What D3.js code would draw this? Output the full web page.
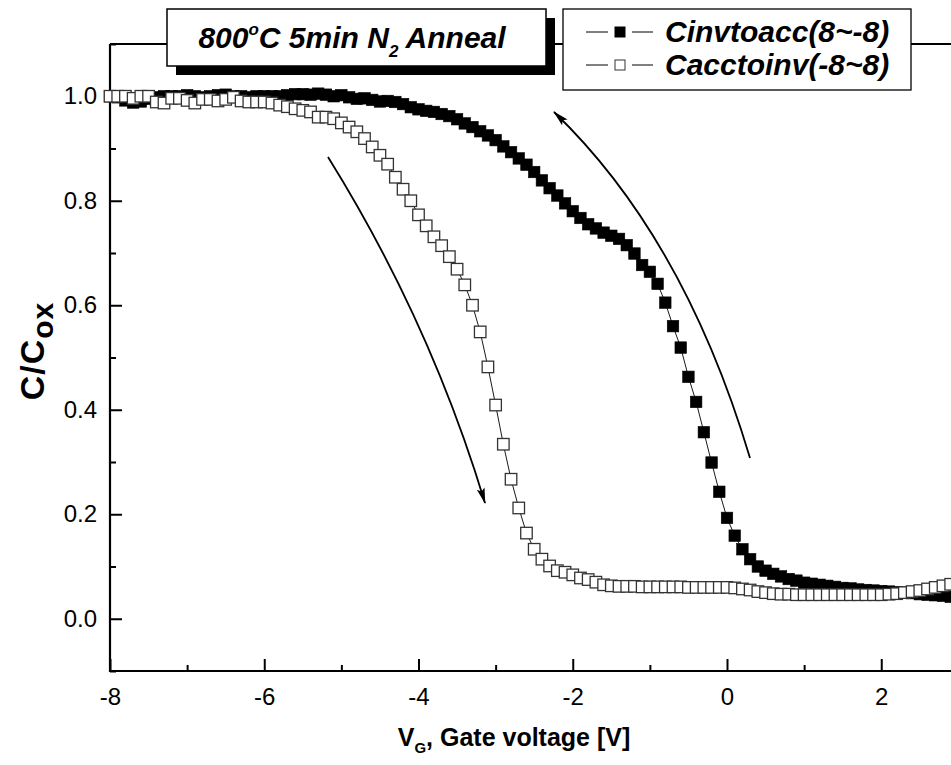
<!DOCTYPE html>
<html>
<head>
<meta charset="utf-8">
<script src="https://cdn.jsdelivr.net/npm/d3@7"></script>
<style>
  html, body { margin: 0; padding: 0; background: #fff; overflow: hidden; }
  svg { display: block; font-family: Arial, "Liberation Sans", Helvetica, sans-serif; }
</style>
</head>
<body>
<svg id="chart" width="951" height="765"></svg>
<script>
// Gate voltage sweep points (V)
const gateVoltage = [
  -8.0, -7.9, -7.8, -7.7, -7.6, -7.5, -7.4, -7.3, -7.2, -7.1,
  -7.0, -6.9, -6.8, -6.7, -6.6, -6.5, -6.4, -6.3, -6.2, -6.1,
  -6.0, -5.9, -5.8, -5.7, -5.6, -5.5, -5.4, -5.3, -5.2, -5.1,
  -5.0, -4.9, -4.8, -4.7, -4.6, -4.5, -4.4, -4.3, -4.2, -4.1,
  -4.0, -3.9, -3.8, -3.7, -3.6, -3.5, -3.4, -3.3, -3.2, -3.1,
  -3.0, -2.9, -2.8, -2.7, -2.6, -2.5, -2.4, -2.3, -2.2, -2.1,
  -2.0, -1.9, -1.8, -1.7, -1.6, -1.5, -1.4, -1.3, -1.2, -1.1,
  -1.0, -0.9, -0.8, -0.7, -0.6, -0.5, -0.4, -0.3, -0.2, -0.1,
   0.0,  0.1,  0.2,  0.3,  0.4,  0.5,  0.6,  0.7,  0.8,  0.9,
   1.0,  1.1,  1.2,  1.3,  1.4,  1.5,  1.6,  1.7,  1.8,  1.9,
   2.0,  2.1,  2.2,  2.3,  2.4,  2.5,  2.6,  2.7,  2.8,  2.9,
   3.0
];

// Normalised capacitance, sweep from inversion to accumulation (8 -> -8 V)
const cInvToAcc = [
  1.000, 0.998, 0.992, 0.988, 0.990, 0.995, 0.998, 1.000, 1.000, 1.000,
  1.002, 1.000, 0.998, 1.000, 1.002, 1.003, 1.000, 1.000, 0.998, 1.000,
  1.000, 1.000, 1.000, 1.002, 1.004, 1.004, 1.003, 1.005, 1.003, 1.000,
  1.002, 0.998, 0.995, 0.996, 0.993, 0.990, 0.991, 0.989, 0.985, 0.979,
  0.975, 0.972, 0.970, 0.966, 0.962, 0.956, 0.948, 0.941, 0.933, 0.925,
  0.916, 0.904, 0.893, 0.881, 0.869, 0.855, 0.839, 0.824, 0.810, 0.795,
  0.780, 0.767, 0.755, 0.747, 0.739, 0.733, 0.727, 0.715, 0.699, 0.677,
  0.664, 0.641, 0.605, 0.560, 0.519, 0.463, 0.415, 0.357, 0.299, 0.243,
  0.193, 0.159, 0.133, 0.114, 0.100, 0.092, 0.086, 0.081, 0.076, 0.073,
  0.069, 0.067, 0.065, 0.063, 0.061, 0.059, 0.058, 0.056, 0.055, 0.054,
  0.053, 0.052, 0.051, 0.050, 0.049, 0.047, 0.046, 0.045, 0.044, 0.042,
  0.041
];

// Normalised capacitance, sweep from accumulation to inversion (-8 -> 8 V)
const cAccToInv = [
  1.000, 1.000, 1.000, 0.996, 1.000, 1.000, 0.989, 0.987, 0.996, 0.996,
  0.992, 0.987, 0.994, 0.994, 0.991, 0.994, 0.998, 0.991, 0.989, 0.989,
  0.989, 0.987, 0.983, 0.980, 0.976, 0.973, 0.970, 0.960, 0.960, 0.957,
  0.949, 0.941, 0.932, 0.919, 0.903, 0.887, 0.870, 0.845, 0.822, 0.800,
  0.773, 0.752, 0.731, 0.714, 0.693, 0.669, 0.639, 0.600, 0.549, 0.482,
  0.409, 0.334, 0.267, 0.212, 0.164, 0.133, 0.114, 0.101, 0.092, 0.089,
  0.084, 0.078, 0.075, 0.070, 0.065, 0.063, 0.062, 0.062, 0.062, 0.061,
  0.061, 0.061, 0.061, 0.061, 0.061, 0.060, 0.060, 0.060, 0.060, 0.060,
  0.060, 0.059, 0.057, 0.055, 0.052, 0.050, 0.048, 0.047, 0.047, 0.046,
  0.046, 0.046, 0.046, 0.046, 0.046, 0.046, 0.046, 0.046, 0.046, 0.046,
  0.046, 0.047, 0.048, 0.050, 0.052, 0.054, 0.057, 0.060, 0.063, 0.066,
  0.069
];

// ticks that fall inside the page
const xMajorTicks = [-8, -6, -4, -2, 0, 2];
const xMinorTicks = [-7, -5, -3, -1, 1];
const yMajorTicks = [0.0, 0.2, 0.4, 0.6, 0.8, 1.0];
const yMinorTicks = [-0.1, 0.1, 0.3, 0.5, 0.7, 0.9, 1.1];

const seriesNames = ["Cinvtoacc(8~-8)", "Cacctoinv(-8~8)"];

const svg = d3.select("#chart");

// Plot frame: the axis runs to +8 V, past the right edge of the page
const x = d3.scaleLinear().domain([-8, 8]).range([110, 1344]);
const y = d3.scaleLinear().domain([-0.1, 1.1]).range([671, 44]);

const INK = "#000";
const TICK_FONT = 24;

// ---- axes ----
const axisG = svg.append("g");

function styleAxis(g) {
  g.attr("font-size", TICK_FONT).attr("font-family", "Arial, 'Liberation Sans', sans-serif");
  g.select(".domain").remove();
  g.selectAll(".tick line").attr("stroke", INK).attr("stroke-width", 2);
  g.selectAll(".tick text").attr("fill", INK).style("font-size", TICK_FONT + "px");
}
function dropLabels(g) { g.selectAll(".tick text").remove(); }

// plain hyphen for negative numbers, as on the original plot
const fmtX = d => String(d);
const fmtY = d => d.toFixed(1);

axisG.append("g")
  .attr("transform", `translate(0,${y(-0.1)})`)
  .call(d3.axisBottom(x).tickValues(xMajorTicks).tickSize(-12).tickPadding(17).tickFormat(fmtX))
  .call(styleAxis);

axisG.append("g")
  .attr("transform", `translate(0,${y(-0.1)})`)
  .call(d3.axisBottom(x).tickValues(xMinorTicks).tickSize(-6))
  .call(styleAxis).call(dropLabels);

axisG.append("g")
  .attr("transform", `translate(${x(-8)},0)`)
  .call(d3.axisLeft(y).tickValues(yMajorTicks).tickSize(-12).tickPadding(13).tickFormat(fmtY))
  .call(styleAxis);

axisG.append("g")
  .attr("transform", `translate(${x(-8)},0)`)
  .call(d3.axisLeft(y).tickValues(yMinorTicks).tickSize(-6))
  .call(styleAxis).call(dropLabels);

// frame lines
axisG.append("line")
  .attr("x1", x(-8)).attr("x2", x(8)).attr("y1", y(-0.1)).attr("y2", y(-0.1))
  .attr("stroke", INK).attr("stroke-width", 2.2);
axisG.append("line")
  .attr("x1", x(-8)).attr("x2", x(-8)).attr("y1", y(-0.1) + 1).attr("y2", y(1.1))
  .attr("stroke", INK).attr("stroke-width", 2.2);
axisG.append("line")
  .attr("x1", x(-8)).attr("x2", x(8)).attr("y1", y(1.1)).attr("y2", y(1.1))
  .attr("stroke", INK).attr("stroke-width", 2.2);

// ---- data ----
const line = d3.line().x(d => x(d[0])).y(d => y(d[1]));
const ptsFilled = gateVoltage.map((v, i) => [v, cInvToAcc[i]]);
const ptsOpen = gateVoltage.map((v, i) => [v, cAccToInv[i]]);
const S = 11.5;

const dataG = svg.append("g");

function drawSeries(pts, filled) {
  const g = dataG.append("g");
  g.append("path").attr("d", line(pts))
    .attr("fill", "none").attr("stroke", INK).attr("stroke-width", 0.9);
  g.selectAll("rect").data(pts).join("rect")
    .attr("x", d => x(d[0]) - S / 2)
    .attr("y", d => y(d[1]) - S / 2)
    .attr("width", S).attr("height", S)
    .attr("fill", filled ? INK : "#fff")
    .attr("stroke", filled ? INK : "#333")
    .attr("stroke-width", filled ? 0.6 : 1.3);
}
drawSeries(ptsFilled, true);
drawSeries(ptsOpen, false);

// ---- sweep-direction arrows ----
const defs = svg.append("defs");
defs.append("marker")
  .attr("id", "arrowHead")
  .attr("viewBox", "0 0 16 10")
  .attr("refX", 15).attr("refY", 5)
  .attr("markerWidth", 16).attr("markerHeight", 10)
  .attr("markerUnits", "userSpaceOnUse")
  .attr("orient", "auto")
  .append("path").attr("d", "M0,1 L16,5 L0,9 L3,5 Z").attr("fill", INK);

const arrowG = svg.append("g");
arrowG.append("path")
  .attr("d", "M328,157 Q430,321 485,503")
  .attr("fill", "none").attr("stroke", INK).attr("stroke-width", 1.8)
  .attr("marker-end", "url(#arrowHead)");
arrowG.append("path")
  .attr("d", "M750,458 Q684,237 554,112")
  .attr("fill", "none").attr("stroke", INK).attr("stroke-width", 1.8)
  .attr("marker-end", "url(#arrowHead)");

// ---- title box with drop shadow ----
const titleG = svg.append("g");
titleG.append("rect").attr("x", 176).attr("y", 18).attr("width", 379).attr("height", 57).attr("fill", INK);
titleG.append("rect").attr("x", 167).attr("y", 9).attr("width", 379).attr("height", 57)
  .attr("fill", "#fff").attr("stroke", INK).attr("stroke-width", 1.5);
const title = titleG.append("text")
  .attr("x", 352).attr("y", 48)
  .attr("text-anchor", "middle")
  .style("font-size", "30px").style("font-weight", "bold").style("font-style", "italic")
  .attr("fill", INK);
title.append("tspan").text("800");
title.append("tspan").attr("dy", -13).style("font-size", "17px").text("o");
title.append("tspan").attr("dy", 13).text("C 5min N");
title.append("tspan").attr("dy", 9).style("font-size", "17px").text("2");
title.append("tspan").attr("dy", -9).text(" Anneal");

// ---- legend ----
const legG = svg.append("g");
legG.append("rect").attr("x", 563).attr("y", 9).attr("width", 348).attr("height", 81)
  .attr("fill", "#fff").attr("stroke", INK).attr("stroke-width", 1.3);
seriesNames.forEach((name, i) => {
  const cy = 32 + i * 33;
  const filled = i === 0;
  legG.append("line").attr("x1", 586).attr("x2", 608).attr("y1", cy).attr("y2", cy)
    .attr("stroke", INK).attr("stroke-width", 1);
  legG.append("line").attr("x1", 632).attr("x2", 653).attr("y1", cy).attr("y2", cy)
    .attr("stroke", INK).attr("stroke-width", 1);
  legG.append("rect").attr("x", 615).attr("y", cy - 5).attr("width", 10).attr("height", 10)
    .attr("fill", filled ? INK : "#fff").attr("stroke", filled ? INK : "#333").attr("stroke-width", 1);
  legG.append("text").attr("x", 665).attr("y", cy + 10)
    .style("font-size", "30px").style("font-weight", "bold").style("font-style", "italic")
    .attr("fill", INK).text(name);
});

// ---- axis titles ----
const xt = svg.append("text")
  .attr("x", 514).attr("y", 746).attr("text-anchor", "middle")
  .style("font-size", "25px").style("font-weight", "bold").attr("fill", INK);
xt.append("tspan").text("V");
xt.append("tspan").attr("dy", 7).style("font-size", "15px").text("G");
xt.append("tspan").attr("dy", -7).text(", Gate voltage [V]");

const yt = svg.append("text")
  .attr("transform", "translate(44,351) rotate(-90)")
  .attr("text-anchor", "middle")
  .style("font-size", "34px").style("font-weight", "bold").style("letter-spacing", "1px")
  .attr("fill", INK);
yt.append("tspan").text("C/C");
yt.append("tspan").attr("dy", 9).style("font-size", "30px").text("ox");
</script>
</body>
</html>
